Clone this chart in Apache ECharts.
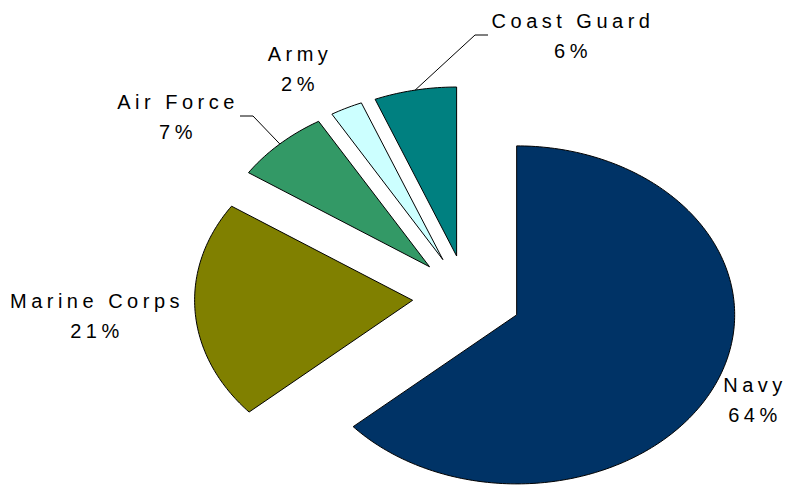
<!DOCTYPE html>
<html>
<head>
<meta charset="utf-8">
<script src="https://cdn.jsdelivr.net/npm/echarts@6/dist/echarts.min.js"></script>
<style>
  html, body { margin: 0; padding: 0; background: #fff; }
  #chart { width: 791px; height: 485px; }
  /* the original labels are drawn with wide letter spacing */
  #chart text { letter-spacing: 4.5px; }
</style>
</head>
<body>
<div id="chart"></div>
<script>
// data (shares, labels show them rounded)
const categories = ["Navy", "Marine Corps", "Air Force", "Army", "Coast Guard"];
const shares = [63.5, 20.9, 7.1, 2.4, 6.1];

// look
const sliceColors = ["#003366", "#808000", "#339966", "#CCFFFF", "#008080"];
const pieCenter = [467, 297.5];
const radiusX = 218;
const radiusY = 169;
const explode = 0.25; // every slice pulled out by this part of the radius
const labelPos = [[755, 400], [97, 316], [178, 117], [300, 69], [573, 36]];
// leader lines: elbow + end, null where Excel drew none
const leaderPts = [null, null, [[253, 116], [240, 116]], null, [[475, 35], [488, 35]]];

const total = shares.reduce((a, b) => a + b, 0);

function renderSlice(params, api) {
  const i = params.dataIndex;
  const value = api.value(0);
  let before = 0;
  for (let k = 0; k < i; k++) before += shares[k];

  const a0 = (before / total) * Math.PI * 2;
  const a1 = ((before + value) / total) * Math.PI * 2;
  const mid = (a0 + a1) / 2;

  // apex of the exploded slice
  const ax = pieCenter[0] + Math.sin(mid) * radiusX * explode;
  const ay = pieCenter[1] - Math.cos(mid) * radiusY * explode;

  const pts = [[ax, ay]];
  const steps = Math.max(4, Math.ceil((a1 - a0) / (Math.PI / 180)));
  for (let s = 0; s <= steps; s++) {
    const t = a0 + ((a1 - a0) * s) / steps;
    pts.push([ax + Math.sin(t) * radiusX, ay - Math.cos(t) * radiusY]);
  }

  const children = [
    {
      type: "polygon",
      shape: { points: pts },
      style: { fill: sliceColors[i], stroke: "#000", lineWidth: 1 },
    },
  ];

  if (leaderPts[i]) {
    const start = [ax + Math.sin(mid) * radiusX, ay - Math.cos(mid) * radiusY];
    children.push({
      type: "polyline",
      shape: { points: [start].concat(leaderPts[i]) },
      style: { fill: null, stroke: "#000", lineWidth: 1 },
    });
  }

  children.push({
    type: "text",
    x: labelPos[i][0],
    y: labelPos[i][1],
    style: {
      text: categories[i] + "\n" + Math.round((value / total) * 100) + "%",
      fill: "#000",
      font: '20px "Liberation Sans", Arial, sans-serif',
      align: "center",
      verticalAlign: "middle",
      lineHeight: 30,
    },
  });

  return { type: "group", children: children };
}

const chart = echarts.init(document.getElementById("chart"), null, { renderer: "svg" });
chart.setOption({
  animation: false,
  series: [
    {
      type: "custom",
      coordinateSystem: "none",
      silent: true,
      data: shares.map((v, i) => [v, i]),
      renderItem: renderSlice,
    },
  ],
});
</script>
</body>
</html>
